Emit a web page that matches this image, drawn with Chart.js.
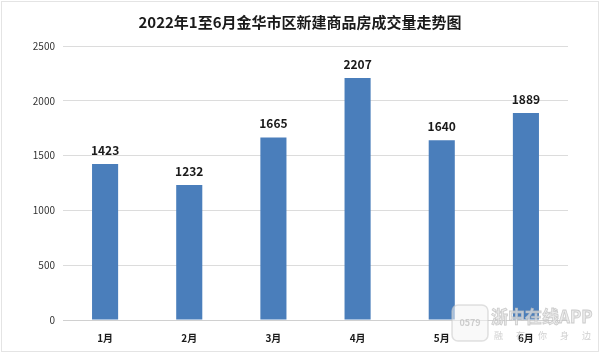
<!DOCTYPE html>
<html><head><meta charset="utf-8">
<script src="https://cdn.jsdelivr.net/npm/chart.js@4.4.1/dist/chart.umd.min.js"></script>
<style>html,body{margin:0;padding:0;background:#fff;}#wrap{width:600px;height:353px;position:relative;}</style>
</head><body><div id="wrap"><canvas id="c" width="600" height="353"></canvas></div>
<script>
const titleText = '2022年1至6月金华市区新建商品房成交量走势图';
const categories = ['1月','2月','3月','4月','5月','6月'];
const volumes = [1423, 1232, 1665, 2207, 1640, 1889];
const yTicks = [0, 500, 1000, 1500, 2000, 2500];

const FONT = '"Noto Sans CJK SC", "Liberation Sans", sans-serif';

const decor = {
  id: 'decor',
  beforeDraw(chart) {
    const ctx = chart.ctx;
    ctx.save();
    ctx.fillStyle = '#fff';
    ctx.fillRect(0, 0, chart.width, chart.height);
    ctx.strokeStyle = '#e4e4e4';
    ctx.lineWidth = 1;
    ctx.strokeRect(1.5, 1.5, chart.width - 3, chart.height - 3);
    ctx.fillStyle = '#1a1a1a';
    ctx.font = 'bold 15px ' + FONT;
    ctx.textAlign = 'center';
    ctx.textBaseline = 'middle';
    ctx.fillText(titleText, 300, 22);
    ctx.restore();
  },
  afterDatasetsDraw(chart) {
    const ctx = chart.ctx;
    const meta = chart.getDatasetMeta(0);
    ctx.save();
    ctx.fillStyle = '#1a1a1a';
    ctx.font = 'bold 12px ' + FONT;
    ctx.textAlign = 'center';
    ctx.textBaseline = 'middle';
    meta.data.forEach((bar, i) => {
      ctx.fillText(String(volumes[i]), bar.x, bar.y - 14);
    });
    ctx.restore();
  },
  afterDraw(chart) {
    const ctx = chart.ctx;
    ctx.save();
    ctx.globalAlpha = 0.55;
    ctx.fillStyle = '#f4f4f4';
    ctx.strokeStyle = '#c8c8c8';
    ctx.lineWidth = 1.5;
    ctx.beginPath();
    ctx.roundRect(452, 305, 36, 36, 6);
    ctx.fill(); ctx.stroke();
    ctx.globalAlpha = 0.75;
    ctx.fillStyle = '#bdbdbd';
    ctx.font = 'bold 9px ' + FONT;
    ctx.textAlign = 'center';
    ctx.textBaseline = 'middle';
    ctx.fillText('0579', 470, 323);
    ctx.fillStyle = '#e6e6e6';
    ctx.strokeStyle = '#bdbdbd';
    ctx.lineWidth = 0.8;
    ctx.font = 'bold 17px ' + FONT;
    ctx.textAlign = 'left';
    ctx.fillText('浙中在线APP', 491, 317);
    ctx.strokeText('浙中在线APP', 491, 317);
    ctx.font = '9px ' + FONT;
    ctx.fillStyle = '#c0c0c0';
    ['融','在','你','身','边'].forEach((ch, i) => ctx.fillText(ch, 494 + i * 22, 336));
    ctx.restore();
  }
};

new Chart(document.getElementById('c'), {
  type: 'bar',
  data: {
    labels: categories,
    datasets: [{
      data: volumes,
      backgroundColor: '#4a7ebb',
      borderWidth: 0,
      categoryPercentage: 1,
      barPercentage: 0.31
    }]
  },
  options: {
    responsive: false,
    animation: false,
    devicePixelRatio: 1,
    layout: { padding: { top: 46, right: 32, left: 0, bottom: 0 } },
    plugins: { legend: { display: false }, title: { display: false }, tooltip: { enabled: false } },
    scales: {
      x: {
        grid: { display: false },
        border: { display: true, color: '#d0d0d0' },
        ticks: { color: '#1a1a1a', font: { family: FONT, size: 10, weight: 'bold' }, padding: 4 },
        afterFit(scale) { scale.height = 33; }
      },
      y: {
        min: 0, max: 2500,
        afterBuildTicks(scale) { scale.ticks = yTicks.map(v => ({ value: v })); },
        grid: { color: '#dcdcdc', drawTicks: false },
        border: { display: false },
        ticks: { color: '#333', font: { family: FONT, size: 10 }, padding: 8, callback: v => String(v) },
        afterFit(scale) { scale.width = 63; }
      }
    }
  },
  plugins: [decor]
});
</script>
</body></html>
